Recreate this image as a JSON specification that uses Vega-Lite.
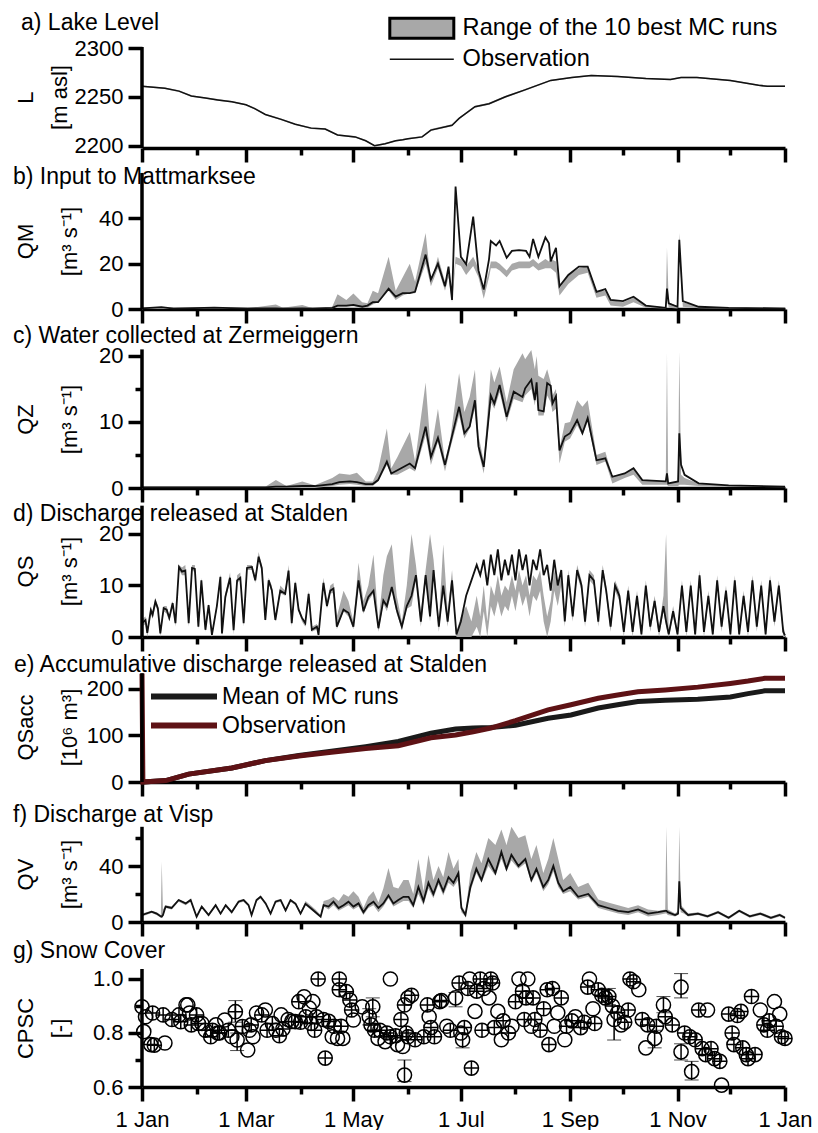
{
"$schema": "https://vega.github.io/schema/vega-lite/v6.json",
"background": "white",
"padding": {"left": 13, "top": 12, "right": 5, "bottom": 0},
"config": {
  "font": "Liberation Sans",
  "view": {"stroke": null},
  "axis": {"grid": false, "labelFont": "Liberation Sans", "labelFontSize": 22, "labelColor": "black", "tickColor": "black", "tickWidth": 3.5, "tickSize": 14, "domainColor": "black", "domainWidth": 3.5, "titleFont": "Liberation Sans", "titleFontSize": 22, "titleFontWeight": "normal", "titleColor": "black", "labelPadding": 5, "labelOverlap": false},
  "axisY": {"domain": false, "titleBaseline": "top", "titleAlign": "center"},
  "title": {"font": "Liberation Sans", "fontSize": 23, "fontWeight": "normal", "color": "black", "anchor": "start", "frame": "group", "baseline": "alphabetic"},
  "legend": {"labelFont": "Liberation Sans", "labelFontSize": 23, "labelColor": "black", "padding": 0, "titlePadding": 0, "labelLimit": 500}
},
"datasets": {
  "lake": [
    {"day":0,"obs":2261,"lo":2260.2,"hi":2261.8},{"day":13,"obs":2259,"lo":2258.2,"hi":2259.8},{"day":21,"obs":2256,"lo":2255.2,"hi":2256.8},{"day":28,"obs":2251,"lo":2250.2,"hi":2251.8},{"day":36,"obs":2249,"lo":2248.2,"hi":2249.8},{"day":43,"obs":2247,"lo":2246.2,"hi":2247.8},{"day":51,"obs":2245,"lo":2244.2,"hi":2245.8},{"day":59,"obs":2242,"lo":2241.2,"hi":2242.8},{"day":64,"obs":2238,"lo":2237.2,"hi":2238.8},{"day":70,"obs":2232,"lo":2231.2,"hi":2232.8},{"day":79,"obs":2227,"lo":2226.2,"hi":2227.8},{"day":87,"obs":2222,"lo":2221.2,"hi":2222.8},{"day":96,"obs":2218,"lo":2217.2,"hi":2218.8},{"day":104,"obs":2217,"lo":2216.2,"hi":2217.8},{"day":111,"obs":2211,"lo":2210.2,"hi":2211.8},{"day":121,"obs":2209,"lo":2208.2,"hi":2209.8},{"day":127,"obs":2205,"lo":2204.2,"hi":2205.8},{"day":132,"obs":2200,"lo":2199.2,"hi":2200.8},{"day":138,"obs":2202,"lo":2201.2,"hi":2202.8},{"day":144,"obs":2205,"lo":2204.2,"hi":2205.8},{"day":148,"obs":2206,"lo":2205.2,"hi":2206.8},{"day":151,"obs":2207,"lo":2206.2,"hi":2207.8},{"day":159,"obs":2209,"lo":2208,"hi":2210},{"day":164,"obs":2216,"lo":2215,"hi":2217},{"day":176,"obs":2221,"lo":2220,"hi":2222},{"day":180,"obs":2228,"lo":2227,"hi":2229},{"day":189,"obs":2240,"lo":2239,"hi":2241},{"day":197,"obs":2243,"lo":2242,"hi":2244},{"day":206,"obs":2250,"lo":2249,"hi":2251},{"day":217,"obs":2257,"lo":2256.2,"hi":2257.8},{"day":232,"obs":2267,"lo":2266.2,"hi":2267.8},{"day":244,"obs":2270,"lo":2269.2,"hi":2270.8},{"day":255,"obs":2272,"lo":2271.2,"hi":2272.8},{"day":270,"obs":2271,"lo":2270.2,"hi":2271.8},{"day":286,"obs":2269,"lo":2268.2,"hi":2269.8},{"day":300,"obs":2268,"lo":2267.2,"hi":2268.8},{"day":306,"obs":2270,"lo":2269.2,"hi":2270.8},{"day":315,"obs":2270,"lo":2269.2,"hi":2270.8},{"day":334,"obs":2267,"lo":2266.2,"hi":2267.8},{"day":350,"obs":2262,"lo":2261.2,"hi":2262.8},{"day":355,"obs":2261,"lo":2260.2,"hi":2261.8},{"day":365,"obs":2261,"lo":2260.2,"hi":2261.8}
  ],
  "qm": [
    {"day":0,"obs":0.3,"lo":0,"hi":0.3},{"day":11,"obs":0.8,"lo":0,"hi":0.5},{"day":18,"obs":0.2,"lo":0,"hi":0.3},{"day":41,"obs":0.6,"lo":0,"hi":0.4},{"day":60,"obs":0.2,"lo":0,"hi":0.3},{"day":76,"obs":0.3,"lo":0,"hi":2},{"day":80,"obs":0.2,"lo":0,"hi":0.5},{"day":91,"obs":0.3,"lo":0,"hi":1.8},{"day":97,"obs":0.2,"lo":0,"hi":0.3},{"day":108,"obs":0.5,"lo":0.2,"hi":1},{"day":111,"obs":1.5,"lo":1,"hi":6.5},{"day":116,"obs":1.5,"lo":1,"hi":4},{"day":120,"obs":1.8,"lo":1.2,"hi":6.8},{"day":125,"obs":1,"lo":0.5,"hi":3},{"day":128,"obs":1.5,"lo":0.5,"hi":2.5},{"day":131,"obs":3,"lo":2,"hi":8},{"day":134,"obs":3,"lo":3,"hi":7},{"day":140,"obs":9,"lo":8,"hi":23},{"day":144,"obs":5.5,"lo":4,"hi":8},{"day":148,"obs":7,"lo":6,"hi":14},{"day":152,"obs":7,"lo":7,"hi":20},{"day":155,"obs":7.6,"lo":7,"hi":12},{"day":161,"obs":24,"lo":20,"hi":33.5},{"day":164,"obs":13,"lo":10,"hi":12},{"day":168,"obs":20,"lo":18,"hi":23},{"day":172,"obs":10,"lo":8,"hi":12},{"day":174,"obs":18.7,"lo":14,"hi":17},{"day":176,"obs":4,"lo":3,"hi":6},{"day":178,"obs":54,"lo":20,"hi":23},{"day":181,"obs":23,"lo":19,"hi":22},{"day":184,"obs":19.7,"lo":15,"hi":19},{"day":188,"obs":40.7,"lo":19,"hi":23},{"day":191,"obs":17,"lo":14,"hi":18},{"day":194,"obs":8.6,"lo":4.5,"hi":8},{"day":197,"obs":22,"lo":14,"hi":17},{"day":198,"obs":30,"lo":18,"hi":21},{"day":201,"obs":28,"lo":18,"hi":21},{"day":203,"obs":30,"lo":17,"hi":20},{"day":207,"obs":22.6,"lo":14,"hi":17},{"day":210,"obs":25.6,"lo":17,"hi":20},{"day":214,"obs":26,"lo":18,"hi":21},{"day":218,"obs":25.6,"lo":18,"hi":21},{"day":220,"obs":23,"lo":18,"hi":21},{"day":222,"obs":30.9,"lo":19,"hi":22},{"day":225,"obs":23,"lo":17,"hi":20},{"day":229,"obs":31.6,"lo":18,"hi":22},{"day":231,"obs":29,"lo":18,"hi":21},{"day":232,"obs":21,"lo":18,"hi":22},{"day":235,"obs":27,"lo":16,"hi":21},{"day":237,"obs":10,"lo":6,"hi":9},{"day":242,"obs":15,"lo":11,"hi":15},{"day":248,"obs":18.7,"lo":15,"hi":18},{"day":253,"obs":18.7,"lo":16,"hi":19},{"day":258,"obs":7.6,"lo":5,"hi":8},{"day":263,"obs":8.8,"lo":6,"hi":8},{"day":266,"obs":4,"lo":1.5,"hi":4},{"day":273,"obs":3.5,"lo":1,"hi":3},{"day":279,"obs":5.4,"lo":3,"hi":5},{"day":286,"obs":1.5,"lo":0.5,"hi":1.5},{"day":297.3,"obs":0.5,"lo":0.2,"hi":0.8},{"day":298,"obs":9,"lo":5,"hi":27},{"day":299,"obs":2.5,"lo":0.5,"hi":3},{"day":304,"obs":1,"lo":0.2,"hi":1},{"day":305,"obs":30.5,"lo":25,"hi":33.5},{"day":307,"obs":3.5,"lo":1,"hi":3},{"day":316,"obs":1,"lo":0.3,"hi":1},{"day":333,"obs":0.5,"lo":0.1,"hi":0.5},{"day":365,"obs":0.2,"lo":0,"hi":0.3}
  ],
  "qz": [
    {"day":0,"obs":0.1,"lo":0,"hi":0.2},{"day":40,"obs":0.1,"lo":0,"hi":0.2},{"day":70,"obs":0.1,"lo":0,"hi":0.2},{"day":76,"obs":0.2,"lo":0,"hi":1.2},{"day":82,"obs":0.2,"lo":0,"hi":0.3},{"day":91,"obs":0.3,"lo":0,"hi":1},{"day":98,"obs":0.3,"lo":0,"hi":0.4},{"day":108,"obs":0.6,"lo":0.3,"hi":1.5},{"day":112,"obs":0.9,"lo":0.5,"hi":2.2},{"day":118,"obs":1,"lo":0.6,"hi":2},{"day":122,"obs":0.9,"lo":0.5,"hi":2.3},{"day":127,"obs":0.6,"lo":0.3,"hi":1},{"day":131,"obs":0.6,"lo":0.3,"hi":1},{"day":134,"obs":1.2,"lo":1,"hi":2.7},{"day":139,"obs":4,"lo":3.5,"hi":9},{"day":141.5,"obs":2.2,"lo":2,"hi":3},{"day":145,"obs":2.7,"lo":2,"hi":4.7},{"day":152,"obs":3.7,"lo":3,"hi":8.5},{"day":155,"obs":3,"lo":2.5,"hi":4},{"day":161,"obs":9.3,"lo":8,"hi":16},{"day":164,"obs":4.7,"lo":3.5,"hi":5.5},{"day":168,"obs":7.6,"lo":7,"hi":12},{"day":172,"obs":3.5,"lo":2.5,"hi":4},{"day":175,"obs":6.8,"lo":6,"hi":7.5},{"day":180,"obs":12.3,"lo":11,"hi":17.4},{"day":183,"obs":8.3,"lo":7.5,"hi":11.5},{"day":186,"obs":9.3,"lo":9,"hi":13.8},{"day":189,"obs":13.3,"lo":12,"hi":17.9},{"day":191,"obs":6.3,"lo":5.5,"hi":8},{"day":194,"obs":3.2,"lo":2.2,"hi":4},{"day":198,"obs":14,"lo":13,"hi":18},{"day":200,"obs":12.8,"lo":12,"hi":16},{"day":203,"obs":15.6,"lo":14.5,"hi":18.4},{"day":207,"obs":10.8,"lo":10,"hi":13},{"day":211,"obs":14.6,"lo":13.5,"hi":18},{"day":216,"obs":13.8,"lo":13,"hi":20.4},{"day":217.5,"obs":15.1,"lo":14,"hi":19.5},{"day":221,"obs":16.4,"lo":15,"hi":20.9},{"day":223,"obs":13.3,"lo":12.5,"hi":18},{"day":224,"obs":16,"lo":15,"hi":20},{"day":225,"obs":11.8,"lo":11,"hi":17},{"day":228,"obs":11.6,"lo":11,"hi":16.5},{"day":230,"obs":15.9,"lo":14,"hi":18},{"day":232,"obs":15.5,"lo":13,"hi":16},{"day":233,"obs":12.8,"lo":11.5,"hi":14},{"day":235,"obs":13.9,"lo":12,"hi":15},{"day":237,"obs":5.7,"lo":3.7,"hi":6},{"day":240,"obs":7.8,"lo":7,"hi":9.8},{"day":243,"obs":8.3,"lo":7.5,"hi":10},{"day":247,"obs":10.3,"lo":9.5,"hi":13.3},{"day":250,"obs":8.3,"lo":8,"hi":12.3},{"day":253,"obs":10.6,"lo":10,"hi":13.3},{"day":258,"obs":4.2,"lo":3.5,"hi":5},{"day":263,"obs":4.5,"lo":4,"hi":5.5},{"day":267,"obs":1.7,"lo":0.7,"hi":1.8},{"day":274,"obs":2.2,"lo":1.5,"hi":2.2},{"day":279,"obs":3,"lo":2,"hi":3},{"day":284,"obs":1.2,"lo":0.5,"hi":1.2},{"day":297.3,"obs":1,"lo":0.5,"hi":1},{"day":298,"obs":2.2,"lo":0.5,"hi":20.5},{"day":298.7,"obs":0.7,"lo":0.3,"hi":0.7},{"day":304.3,"obs":1,"lo":0.3,"hi":1},{"day":305,"obs":8.3,"lo":0.5,"hi":20.7},{"day":306,"obs":3.5,"lo":0.5,"hi":2},{"day":308,"obs":2,"lo":0.5,"hi":1.5},{"day":316,"obs":0.7,"lo":0.3,"hi":0.7},{"day":333,"obs":0.4,"lo":0.2,"hi":0.4},{"day":365,"obs":0.2,"lo":0.1,"hi":0.2}
  ],
  "qs": [
    {"day":0,"obs":2.7,"lo":2,"hi":3.5},{"day":2,"obs":3.3,"lo":2.5,"hi":4},{"day":3,"obs":0.8,"lo":0,"hi":1},{"day":5,"obs":5.2,"lo":4.5,"hi":6},{"day":6,"obs":4.3,"lo":3.5,"hi":5},{"day":7.6,"obs":6.9,"lo":6,"hi":7.5},{"day":9,"obs":5.6,"lo":5,"hi":6},{"day":10.4,"obs":0.7,"lo":0,"hi":1},{"day":12.3,"obs":5.6,"lo":5,"hi":6},{"day":14,"obs":5.3,"lo":4.5,"hi":6},{"day":15.5,"obs":3.7,"lo":3,"hi":4},{"day":17.4,"obs":6.6,"lo":6,"hi":7},{"day":19,"obs":2.7,"lo":2,"hi":3},{"day":21,"obs":13.6,"lo":13,"hi":14},{"day":22.7,"obs":12.7,"lo":12,"hi":13.5},{"day":24.6,"obs":12.9,"lo":12,"hi":14},{"day":26.5,"obs":2.7,"lo":2,"hi":3},{"day":28.4,"obs":13.4,"lo":13,"hi":14},{"day":30,"obs":13.2,"lo":12.5,"hi":14},{"day":32,"obs":2,"lo":1.5,"hi":2.5},{"day":33.7,"obs":11,"lo":10.5,"hi":11.5},{"day":36,"obs":1.4,"lo":1,"hi":2},{"day":37.8,"obs":6.2,"lo":5.5,"hi":6.5},{"day":39.7,"obs":0.4,"lo":0,"hi":0.8},{"day":42.5,"obs":6,"lo":5.5,"hi":6.5},{"day":44.5,"obs":11.7,"lo":11,"hi":12.3},{"day":45.4,"obs":0.7,"lo":0,"hi":1},{"day":47.3,"obs":7.8,"lo":7,"hi":8.5},{"day":50,"obs":11.5,"lo":11,"hi":12.5},{"day":52,"obs":1.3,"lo":0.5,"hi":2},{"day":54,"obs":11,"lo":10.5,"hi":12},{"day":55.8,"obs":11.5,"lo":11,"hi":12.5},{"day":57.7,"obs":2.7,"lo":2,"hi":3},{"day":59.6,"obs":13.4,"lo":13,"hi":14},{"day":62.4,"obs":13.6,"lo":13,"hi":14},{"day":64.3,"obs":11,"lo":10.5,"hi":12},{"day":66.2,"obs":15.6,"lo":15,"hi":16.5},{"day":68,"obs":13.4,"lo":12.5,"hi":14},{"day":70,"obs":3.3,"lo":3,"hi":4},{"day":71.9,"obs":11,"lo":10.5,"hi":11.5},{"day":73.7,"obs":9.1,"lo":8.5,"hi":10},{"day":75.7,"obs":3.3,"lo":3,"hi":4},{"day":78.5,"obs":9,"lo":8.5,"hi":10},{"day":81.3,"obs":8.4,"lo":8,"hi":9},{"day":83.2,"obs":12.9,"lo":12.5,"hi":14},{"day":85,"obs":2.7,"lo":2,"hi":3},{"day":87,"obs":10.5,"lo":10,"hi":11},{"day":88.9,"obs":5.3,"lo":5,"hi":6},{"day":90.8,"obs":3.7,"lo":3,"hi":4},{"day":92.7,"obs":2.7,"lo":2,"hi":3},{"day":94.6,"obs":8.4,"lo":8,"hi":9},{"day":96.4,"obs":1.4,"lo":1,"hi":2},{"day":99.3,"obs":2,"lo":1.5,"hi":2.5},{"day":100.2,"obs":0.4,"lo":0,"hi":0.6},{"day":103,"obs":10.5,"lo":10,"hi":11.5},{"day":105,"obs":6,"lo":5.5,"hi":7},{"day":106.9,"obs":9,"lo":8.5,"hi":10},{"day":108.7,"obs":9.4,"lo":8.5,"hi":10.5},{"day":110.6,"obs":2,"lo":1.5,"hi":4},{"day":114.4,"obs":5.3,"lo":5,"hi":9},{"day":117.2,"obs":4.7,"lo":4,"hi":7},{"day":120,"obs":2,"lo":1.5,"hi":3},{"day":122.9,"obs":11,"lo":10,"hi":14.4},{"day":125.7,"obs":5,"lo":4.5,"hi":7},{"day":128.5,"obs":7.8,"lo":7,"hi":10},{"day":131.4,"obs":9,"lo":8.5,"hi":16},{"day":134.2,"obs":1.7,"lo":1,"hi":3},{"day":137,"obs":7.1,"lo":6.5,"hi":12},{"day":139,"obs":6,"lo":5,"hi":15.7},{"day":141.8,"obs":9.7,"lo":9,"hi":18},{"day":144.6,"obs":5.3,"lo":4.5,"hi":8},{"day":147.5,"obs":2,"lo":1.5,"hi":3},{"day":150.3,"obs":6,"lo":5.5,"hi":10},{"day":153,"obs":8,"lo":6,"hi":20},{"day":155.5,"obs":12,"lo":11,"hi":14},{"day":158.3,"obs":3,"lo":2,"hi":5},{"day":161,"obs":12,"lo":11,"hi":13},{"day":163.5,"obs":4,"lo":3,"hi":20},{"day":165.5,"obs":13,"lo":12,"hi":15},{"day":168.5,"obs":2,"lo":1,"hi":3},{"day":171,"obs":10,"lo":9,"hi":18},{"day":173.5,"obs":3,"lo":2,"hi":5},{"day":176,"obs":11,"lo":10,"hi":13},{"day":178.5,"obs":0.5,"lo":0,"hi":1},{"day":181,"obs":3,"lo":0,"hi":4},{"day":184,"obs":8,"lo":0,"hi":6},{"day":187,"obs":11,"lo":0,"hi":3},{"day":190,"obs":14,"lo":2,"hi":8},{"day":192,"obs":12,"lo":0,"hi":4},{"day":194,"obs":15,"lo":5,"hi":10},{"day":196,"obs":10,"lo":0,"hi":3},{"day":198,"obs":16,"lo":6,"hi":10},{"day":200,"obs":12,"lo":4,"hi":8},{"day":202,"obs":17,"lo":7,"hi":12},{"day":204,"obs":11,"lo":4,"hi":8},{"day":206,"obs":15,"lo":6,"hi":10},{"day":208,"obs":12,"lo":5,"hi":9},{"day":210,"obs":16,"lo":8,"hi":12},{"day":212,"obs":11,"lo":5,"hi":9},{"day":214,"obs":17,"lo":9,"hi":13},{"day":216,"obs":13,"lo":6,"hi":10},{"day":218,"obs":16,"lo":8,"hi":12},{"day":220,"obs":10,"lo":4,"hi":8},{"day":222,"obs":15,"lo":8,"hi":12},{"day":224,"obs":13,"lo":7,"hi":11},{"day":226,"obs":17,"lo":9,"hi":13},{"day":228,"obs":12,"lo":3,"hi":8},{"day":230,"obs":14,"lo":0,"hi":4},{"day":232,"obs":9,"lo":3,"hi":7},{"day":234,"obs":15,"lo":9,"hi":13},{"day":236,"obs":10,"lo":6,"hi":10},{"day":238,"obs":13,"lo":10,"hi":13},{"day":240,"obs":3,"lo":2,"hi":4},{"day":242,"obs":12,"lo":11,"hi":13},{"day":244.5,"obs":4,"lo":3,"hi":5},{"day":247,"obs":13,"lo":12,"hi":14},{"day":249.5,"obs":10,"lo":9,"hi":11},{"day":251.5,"obs":3,"lo":2,"hi":4},{"day":254,"obs":12,"lo":11,"hi":13},{"day":256.5,"obs":11,"lo":10,"hi":12},{"day":259,"obs":3,"lo":2,"hi":4},{"day":261.5,"obs":13,"lo":12,"hi":14},{"day":263.5,"obs":9,"lo":8,"hi":10},{"day":266,"obs":2,"lo":1,"hi":3},{"day":268.5,"obs":10,"lo":9,"hi":11},{"day":271,"obs":8,"lo":7,"hi":9},{"day":273.5,"obs":1,"lo":0,"hi":2},{"day":276,"obs":9,"lo":8,"hi":10},{"day":278.5,"obs":1,"lo":0,"hi":2},{"day":281,"obs":8,"lo":7,"hi":9},{"day":283.5,"obs":0.5,"lo":0,"hi":1},{"day":286,"obs":10,"lo":9,"hi":11},{"day":288.5,"obs":2,"lo":1,"hi":3},{"day":291,"obs":7,"lo":6,"hi":8},{"day":293.5,"obs":1,"lo":0,"hi":2},{"day":296,"obs":6,"lo":5,"hi":8},{"day":297.5,"obs":3,"lo":2,"hi":20},{"day":299,"obs":0.5,"lo":0,"hi":1},{"day":301.5,"obs":5,"lo":4,"hi":6},{"day":304,"obs":0.5,"lo":0,"hi":1},{"day":306.5,"obs":10,"lo":9,"hi":11},{"day":309,"obs":1,"lo":0,"hi":2},{"day":311.5,"obs":10,"lo":9,"hi":11},{"day":314,"obs":0.5,"lo":0,"hi":1},{"day":316.5,"obs":12,"lo":11,"hi":13},{"day":319,"obs":1,"lo":0,"hi":2},{"day":321.5,"obs":8,"lo":7,"hi":9},{"day":324,"obs":0.5,"lo":0,"hi":1},{"day":326.5,"obs":11,"lo":10,"hi":12},{"day":329,"obs":2,"lo":1,"hi":3},{"day":331.5,"obs":9,"lo":8,"hi":10},{"day":334,"obs":0.5,"lo":0,"hi":1},{"day":336.5,"obs":11,"lo":10,"hi":12},{"day":339,"obs":0.5,"lo":0,"hi":1},{"day":341.5,"obs":8,"lo":7,"hi":9},{"day":344,"obs":1,"lo":0,"hi":2},{"day":346.5,"obs":11,"lo":10,"hi":12},{"day":349,"obs":2,"lo":1,"hi":3},{"day":351.5,"obs":10,"lo":9,"hi":11},{"day":354,"obs":0.5,"lo":0,"hi":1},{"day":356.5,"obs":11,"lo":10,"hi":12},{"day":359,"obs":3,"lo":2,"hi":4},{"day":361.5,"obs":10,"lo":9,"hi":11},{"day":364,"obs":1,"lo":0,"hi":2},{"day":365,"obs":0.3,"lo":0,"hi":1}
  ],
  "qsacc": [
    {"day":0,"mean":0,"obs":233},{"day":0.5,"mean":0,"obs":0},{"day":13.5,"mean":3,"obs":3},{"day":26.5,"mean":17,"obs":17},{"day":51,"mean":30,"obs":30},{"day":70,"mean":46,"obs":46},{"day":89,"mean":57,"obs":56},{"day":107.5,"mean":66,"obs":64},{"day":127,"mean":76,"obs":72},{"day":145.5,"mean":87,"obs":78},{"day":164,"mean":105,"obs":95},{"day":178,"mean":114,"obs":101},{"day":188,"mean":116,"obs":108},{"day":198,"mean":117,"obs":116},{"day":212,"mean":122,"obs":132},{"day":230.5,"mean":137,"obs":155},{"day":243.5,"mean":144,"obs":166},{"day":259,"mean":159,"obs":180},{"day":270,"mean":166,"obs":187},{"day":281.5,"mean":173,"obs":194},{"day":297,"mean":176,"obs":198},{"day":315.5,"mean":178,"obs":204},{"day":334,"mean":183,"obs":212},{"day":344,"mean":190,"obs":217},{"day":353.5,"mean":196,"obs":223},{"day":365,"mean":196,"obs":223}
  ],
  "qv": [
    {"day":0,"obs":5,"lo":4,"hi":6},{"day":5.5,"obs":7.4,"lo":6.5,"hi":8},{"day":8.3,"obs":6,"lo":5,"hi":7},{"day":10.7,"obs":4,"lo":3,"hi":5},{"day":11.2,"obs":3.8,"lo":3,"hi":43},{"day":11.9,"obs":5,"lo":4,"hi":9},{"day":13.4,"obs":11,"lo":10,"hi":12},{"day":16.8,"obs":10,"lo":9,"hi":11},{"day":20.8,"obs":15.7,"lo":14.5,"hi":16.5},{"day":24.8,"obs":13.3,"lo":12,"hi":14},{"day":27.6,"obs":15.7,"lo":14.5,"hi":16.5},{"day":31,"obs":3.8,"lo":2.5,"hi":4.5},{"day":33.9,"obs":11,"lo":10,"hi":12},{"day":37.8,"obs":5,"lo":4,"hi":6},{"day":41.8,"obs":12,"lo":11,"hi":13},{"day":44.6,"obs":6,"lo":5,"hi":7},{"day":47.5,"obs":12,"lo":11,"hi":13},{"day":50.9,"obs":7,"lo":6,"hi":8},{"day":54.8,"obs":14.5,"lo":13.5,"hi":15.5},{"day":57.7,"obs":15.7,"lo":14.5,"hi":16.5},{"day":60.5,"obs":12,"lo":11,"hi":13},{"day":62.2,"obs":5,"lo":4,"hi":6},{"day":65,"obs":15.7,"lo":14.5,"hi":16.5},{"day":67.3,"obs":18,"lo":17,"hi":19},{"day":70.2,"obs":13.3,"lo":12,"hi":14},{"day":73,"obs":6,"lo":5,"hi":7},{"day":75.8,"obs":14.5,"lo":13.5,"hi":15.5},{"day":78.7,"obs":15.7,"lo":14.5,"hi":16.5},{"day":81.5,"obs":8.3,"lo":7,"hi":9},{"day":84.3,"obs":15.7,"lo":14.5,"hi":16.5},{"day":87.2,"obs":13,"lo":12,"hi":14},{"day":90,"obs":6,"lo":5,"hi":7},{"day":92.8,"obs":13,"lo":12,"hi":15},{"day":95.7,"obs":10,"lo":9,"hi":12},{"day":98.5,"obs":7,"lo":6,"hi":9},{"day":101.4,"obs":3.8,"lo":3,"hi":5},{"day":103.1,"obs":12,"lo":11,"hi":15},{"day":105.9,"obs":11,"lo":9,"hi":16},{"day":108.7,"obs":14.5,"lo":12,"hi":18},{"day":111.6,"obs":10,"lo":8,"hi":15},{"day":114.4,"obs":12,"lo":10,"hi":20},{"day":117.2,"obs":14.5,"lo":12,"hi":18},{"day":120,"obs":11,"lo":9,"hi":22},{"day":122.9,"obs":13.3,"lo":11,"hi":18},{"day":125.7,"obs":7,"lo":5,"hi":10},{"day":128.5,"obs":12,"lo":10,"hi":18},{"day":131.4,"obs":14.5,"lo":12,"hi":22},{"day":134.2,"obs":10,"lo":7,"hi":14},{"day":137,"obs":13.3,"lo":11,"hi":24},{"day":139.9,"obs":19,"lo":17,"hi":38.6},{"day":142.7,"obs":13.3,"lo":11,"hi":25},{"day":145.5,"obs":15.7,"lo":13,"hi":24},{"day":148.4,"obs":18,"lo":15,"hi":30},{"day":151.3,"obs":18,"lo":15,"hi":30},{"day":154,"obs":12,"lo":10,"hi":20},{"day":156.9,"obs":25,"lo":20,"hi":45},{"day":159.8,"obs":15,"lo":12,"hi":22},{"day":162.6,"obs":28,"lo":24,"hi":48},{"day":165.4,"obs":20,"lo":17,"hi":30},{"day":168.3,"obs":30,"lo":27,"hi":40},{"day":171,"obs":22,"lo":19,"hi":32},{"day":174,"obs":32,"lo":28,"hi":50},{"day":176.8,"obs":28,"lo":25,"hi":38},{"day":179.6,"obs":35,"lo":30,"hi":45},{"day":181.3,"obs":10,"lo":7,"hi":12},{"day":183.6,"obs":5,"lo":4,"hi":7},{"day":186.4,"obs":25,"lo":22,"hi":35},{"day":189.8,"obs":38,"lo":35,"hi":50},{"day":192.7,"obs":30,"lo":28,"hi":42},{"day":196.6,"obs":45,"lo":40,"hi":60},{"day":200.6,"obs":35,"lo":33,"hi":55},{"day":204,"obs":50,"lo":45,"hi":66},{"day":206.9,"obs":38,"lo":36,"hi":55},{"day":209.7,"obs":48,"lo":44,"hi":68},{"day":213.7,"obs":40,"lo":38,"hi":60},{"day":217.6,"obs":45,"lo":42,"hi":62},{"day":221,"obs":30,"lo":28,"hi":45},{"day":223.9,"obs":38,"lo":35,"hi":55},{"day":227.8,"obs":25,"lo":22,"hi":35},{"day":230.6,"obs":30,"lo":27,"hi":45},{"day":233.5,"obs":40,"lo":36,"hi":60},{"day":236.3,"obs":28,"lo":25,"hi":45},{"day":239.1,"obs":22,"lo":20,"hi":30},{"day":243.1,"obs":25,"lo":22,"hi":35},{"day":247.6,"obs":18,"lo":16,"hi":25},{"day":253.3,"obs":20,"lo":18,"hi":28},{"day":259,"obs":12,"lo":10,"hi":16},{"day":264.6,"obs":10,"lo":8,"hi":14},{"day":270.3,"obs":8,"lo":6,"hi":12},{"day":276,"obs":7,"lo":5,"hi":10},{"day":281.6,"obs":9,"lo":7,"hi":12},{"day":287.3,"obs":6,"lo":4,"hi":9},{"day":293,"obs":7,"lo":5,"hi":8},{"day":297,"obs":8,"lo":6,"hi":9},{"day":297.7,"obs":8,"lo":6,"hi":68},{"day":298.5,"obs":7,"lo":5,"hi":9},{"day":302.6,"obs":5,"lo":4,"hi":6},{"day":304.3,"obs":6,"lo":5,"hi":8},{"day":305,"obs":29,"lo":20,"hi":68},{"day":305.8,"obs":10,"lo":7,"hi":12},{"day":307.5,"obs":8,"lo":6,"hi":10},{"day":310,"obs":5,"lo":4,"hi":6},{"day":315.6,"obs":6,"lo":5,"hi":7},{"day":321,"obs":4,"lo":3,"hi":5},{"day":327,"obs":7,"lo":6,"hi":8},{"day":333,"obs":3,"lo":2,"hi":4},{"day":339,"obs":8,"lo":7,"hi":9},{"day":345,"obs":4,"lo":3,"hi":5},{"day":351,"obs":6,"lo":5,"hi":7},{"day":357,"obs":3,"lo":2,"hi":4},{"day":362,"obs":5,"lo":4,"hi":6},{"day":365,"obs":3,"lo":2,"hi":4}
  ],
  "snow": [
    {"day":0,"v":0.897,"t":"o"},{"day":2,"v":0.86,"t":"o"},{"day":1,"v":0.805,"t":"o"},{"day":6,"v":0.874,"t":"p"},{"day":7,"v":0.755,"t":"p"},{"day":5,"v":0.757,"t":"p"},{"day":12,"v":0.867,"t":"p"},{"day":13,"v":0.763,"t":"o"},{"day":17,"v":0.85,"t":"p"},{"day":21,"v":0.867,"t":"p"},{"day":22,"v":0.842,"t":"p"},{"day":25,"v":0.904,"t":"o"},{"day":26,"v":0.904,"t":"o"},{"day":27,"v":0.874,"t":"o"},{"day":28,"v":0.83,"t":"p"},{"day":31,"v":0.867,"t":"p"},{"day":32,"v":0.835,"t":"p"},{"day":34,"v":0.835,"t":"o"},{"day":36,"v":0.81,"t":"p"},{"day":39,"v":0.786,"t":"p"},{"day":40,"v":0.81,"t":"p"},{"day":42,"v":0.83,"t":"o"},{"day":43,"v":0.8,"t":"p"},{"day":44,"v":0.8,"t":"p"},{"day":47,"v":0.848,"t":"o"},{"day":49,"v":0.81,"t":"p"},{"day":51,"v":0.786,"t":"o"},{"day":53,"v":0.879,"t":"p","lo":0.84,"hi":0.92},{"day":54,"v":0.774,"t":"o","lo":0.735,"hi":0.8},{"day":57,"v":0.824,"t":"p"},{"day":60,"v":0.737,"t":"o"},{"day":61,"v":0.81,"t":"o"},{"day":62,"v":0.83,"t":"p"},{"day":63,"v":0.786,"t":"o"},{"day":65,"v":0.874,"t":"o"},{"day":68,"v":0.867,"t":"p"},{"day":70,"v":0.885,"t":"o"},{"day":71,"v":0.81,"t":"p"},{"day":74,"v":0.835,"t":"p"},{"day":76,"v":0.81,"t":"o"},{"day":78,"v":0.79,"t":"p"},{"day":79,"v":0.867,"t":"o"},{"day":80,"v":0.815,"t":"p"},{"day":83,"v":0.85,"t":"o"},{"day":85,"v":0.843,"t":"p"},{"day":87,"v":0.842,"t":"p"},{"day":89,"v":0.916,"t":"p"},{"day":90,"v":0.84,"t":"p"},{"day":92,"v":0.934,"t":"o"},{"day":93,"v":0.86,"t":"p"},{"day":95,"v":0.892,"t":"o"},{"day":96,"v":0.835,"t":"p"},{"day":97,"v":0.916,"t":"o"},{"day":98,"v":0.81,"t":"p"},{"day":99,"v":0.86,"t":"p"},{"day":100,"v":1.0,"t":"p"},{"day":103,"v":0.85,"t":"p"},{"day":104,"v":0.707,"t":"p"},{"day":106,"v":0.843,"t":"p"},{"day":108,"v":0.786,"t":"o"},{"day":109,"v":0.825,"t":"p"},{"day":111,"v":0.78,"t":"o"},{"day":112,"v":1.0,"t":"p"},{"day":112,"v":0.96,"t":"p"},{"day":113,"v":0.825,"t":"p"},{"day":114,"v":0.78,"t":"o"},{"day":116,"v":0.953,"t":"p"},{"day":118,"v":0.922,"t":"p"},{"day":119,"v":0.885,"t":"p"},{"day":120,"v":0.848,"t":"o"},{"day":125,"v":0.897,"t":"o"},{"day":129,"v":0.86,"t":"o","lo":0.83,"hi":0.89},{"day":131,"v":0.897,"t":"o","lo":0.86,"hi":0.93},{"day":130,"v":0.83,"t":"p"},{"day":132,"v":0.81,"t":"p"},{"day":134,"v":0.78,"t":"o"},{"day":135,"v":0.81,"t":"p"},{"day":138,"v":0.768,"t":"o"},{"day":139,"v":0.8,"t":"p"},{"day":141,"v":0.786,"t":"p"},{"day":141,"v":1.0,"t":"o"},{"day":144,"v":0.79,"t":"p"},{"day":145,"v":0.757,"t":"o"},{"day":147,"v":0.85,"t":"p"},{"day":148,"v":0.75,"t":"o"},{"day":149,"v":0.644,"t":"o","lo":0.62,"hi":0.7},{"day":149,"v":0.904,"t":"p"},{"day":151,"v":0.93,"t":"o"},{"day":150,"v":0.8,"t":"p"},
    {"day":153,"v":0.94,"t":"p"},{"day":151,"v":0.786,"t":"p"},{"day":155,"v":0.775,"t":"p"},{"day":160,"v":0.786,"t":"p"},{"day":162,"v":0.904,"t":"p"},{"day":163,"v":0.86,"t":"o"},{"day":164,"v":0.82,"t":"p"},{"day":166,"v":0.786,"t":"p"},{"day":169,"v":0.916,"t":"p"},{"day":170,"v":0.92,"t":"p"},{"day":173,"v":0.825,"t":"o"},{"day":175,"v":0.81,"t":"p"},{"day":178,"v":0.93,"t":"o","lo":0.897,"hi":0.95},{"day":180,"v":0.985,"t":"p"},{"day":181,"v":0.8,"t":"o"},{"day":182,"v":0.775,"t":"o","lo":0.745,"hi":0.8},{"day":183,"v":0.82,"t":"p"},{"day":185,"v":0.965,"t":"p"},{"day":186,"v":1.0,"t":"o"},{"day":187,"v":0.67,"t":"p"},{"day":189,"v":0.88,"t":"o"},{"day":190,"v":0.955,"t":"p"},{"day":192,"v":1.0,"t":"p"},{"day":193,"v":0.81,"t":"p"},{"day":194,"v":0.965,"t":"p"},{"day":197,"v":0.93,"t":"o"},{"day":198,"v":1.0,"t":"p"},{"day":199,"v":0.985,"t":"p"},{"day":200,"v":0.82,"t":"p"},{"day":202,"v":0.88,"t":"o"},{"day":204,"v":0.775,"t":"o"},{"day":205,"v":0.845,"t":"p"},{"day":208,"v":0.8,"t":"p"},{"day":210,"v":0.825,"t":"o"},{"day":212,"v":0.916,"t":"p"},{"day":214,"v":1.0,"t":"o"},{"day":216,"v":0.955,"t":"p"},{"day":217,"v":0.85,"t":"p"},{"day":218,"v":0.93,"t":"p"},{"day":219,"v":1.0,"t":"o"},{"day":221,"v":0.825,"t":"o"},{"day":222,"v":0.93,"t":"p"},{"day":223,"v":0.85,"t":"p"},{"day":226,"v":0.81,"t":"p"},{"day":228,"v":0.89,"t":"p"},{"day":230,"v":0.96,"t":"p"},{"day":231,"v":0.757,"t":"p"},{"day":233,"v":0.965,"t":"p"},{"day":234,"v":0.825,"t":"o"},{"day":236,"v":0.875,"t":"o"},{"day":238,"v":0.93,"t":"p"},{"day":240,"v":0.775,"t":"o"},{"day":241,"v":0.825,"t":"p"},{"day":244,"v":0.845,"t":"p"},{"day":246,"v":0.86,"t":"o"},{"day":249,"v":0.82,"t":"p"},{"day":251,"v":0.84,"t":"p"},{"day":254,"v":1.0,"t":"o"},{"day":253,"v":0.97,"t":"p"},{"day":256,"v":0.89,"t":"o"},{"day":257,"v":0.835,"t":"p"},{"day":259,"v":0.96,"t":"p"},{"day":261,"v":0.94,"t":"p"},{"day":263,"v":0.93,"t":"p"},{"day":265,"v":0.935,"t":"p","lo":0.905,"hi":0.965},{"day":267,"v":0.9,"t":"p"},{"day":268,"v":0.85,"t":"o","lo":0.774,"hi":0.88},{"day":270,"v":0.875,"t":"p"},{"day":272,"v":0.83,"t":"o"},{"day":274,"v":0.84,"t":"p"},{"day":276,"v":0.885,"t":"p"},{"day":277,"v":1.0,"t":"p"},{"day":279,"v":0.99,"t":"p"},{"day":282,"v":0.96,"t":"o"},{"day":284,"v":0.85,"t":"p"},{"day":286,"v":0.745,"t":"o"},{"day":287,"v":0.83,"t":"p"},{"day":291,"v":0.78,"t":"o","lo":0.745,"hi":0.81},{"day":292,"v":0.825,"t":"p"},{"day":296,"v":0.904,"t":"o","lo":0.875,"hi":0.935},{"day":297,"v":0.86,"t":"p"},{"day":301,"v":0.83,"t":"p"},{"day":306,"v":0.97,"t":"o","lo":0.93,"hi":1.02},{"day":306,"v":0.73,"t":"o","lo":0.7,"hi":0.76},{"day":308,"v":0.8,"t":"p"},{"day":312,"v":0.657,"t":"o","lo":0.626,"hi":0.695},{"day":311,"v":0.786,"t":"p"},{"day":314,"v":0.775,"t":"p"},{"day":316,"v":0.885,"t":"p"},{"day":318,"v":0.742,"t":"p"},{"day":321,"v":0.885,"t":"o"},{"day":320,"v":0.72,"t":"p"},{"day":323,"v":0.742,"t":"p"},{"day":325,"v":0.705,"t":"p"},{"day":328,"v":0.695,"t":"p"},{"day":329,"v":0.607,"t":"o"},{"day":333,"v":0.87,"t":"p"},{"day":335,"v":0.8,"t":"p"},{"day":336,"v":0.757,"t":"p"},{"day":338,"v":0.865,"t":"p"},{"day":340,"v":0.88,"t":"p"},{"day":341,"v":0.745,"t":"p"},{"day":343,"v":0.72,"t":"p"},{"day":344,"v":0.705,"t":"p"},{"day":346,"v":0.935,"t":"p"},{"day":348,"v":0.72,"t":"p"},{"day":351,"v":0.885,"t":"o"},{"day":353,"v":0.83,"t":"p"},{"day":355,"v":0.81,"t":"p"},{"day":356,"v":0.845,"t":"p"},{"day":359,"v":0.916,"t":"o"},{"day":360,"v":0.825,"t":"p"},{"day":362,"v":0.87,"t":"o"},{"day":363,"v":0.786,"t":"p"},{"day":365,"v":0.78,"t":"p"}
  ]
},
"bounds": "flush",
"spacing": 0,
"resolve": {"scale": {"fill": "independent", "stroke": "independent", "color": "independent", "shape": "independent"}, "legend": {"fill": "independent", "stroke": "independent", "color": "independent", "shape": "independent"}},
"vconcat": [
  {
    "width": 643, "height": 101,
    "title": {"text": "a) Lake Level", "dx": -121, "offset": -18.5},
    "data": {"name": "lake"},
    "encoding": {"x": {"field": "day", "type": "quantitative", "scale": {"domain": [0, 365], "nice": false, "zero": false}, "axis": {"values": [0,31,59,90,120,151,181,212,243,273,304,334,365], "labels": false, "title": null, "tickSize": {"condition": {"test": "indexof([0,59,120,181,243,304,365], datum.value) >= 0", "value": 14}, "value": 7}}}},
    "layer": [
      {"mark": {"type": "area", "color": "#a8a8a8"}, "encoding": {
        "y": {"field": "lo", "type": "quantitative", "scale": {"domain": [2197.6, 2301.3], "nice": false, "zero": false}, "axis": {"values": [2200,2225,2250,2275,2300], "format": "d", "labelExpr": "datum.value % 50 == 0 ? datum.label : ''", "tickSize": {"condition": {"test": "datum.value % 50 == 0", "value": 14}, "value": 7}, "title": ["L", "[m asl]"], "titleX": -127, "titleY": 50, "titleLineHeight": 34}},
        "y2": {"field": "hi"},
        "fill": {"datum": "Range of the 10 best MC runs", "type": "nominal", "scale": {"range": ["#a8a8a8"]}, "legend": {"orient": "none", "legendX": 268, "legendY": -30.5, "title": null, "symbolType": "M-3.2,-1H3.2V1H-3.2Z", "symbolSize": 400, "symbolStrokeColor": "black", "symbolStrokeWidth": 3, "labelOffset": 29, "labelFontSize": 23.6}}
      }},
      {"mark": {"type": "line", "strokeWidth": 1.5}, "encoding": {
        "y": {"field": "obs", "type": "quantitative"},
        "stroke": {"datum": "Observation", "type": "nominal", "scale": {"range": ["#111111"]}, "legend": {"orient": "none", "legendX": 268, "legendY": 0.5, "title": null, "symbolType": "M-3.2,0H3.2", "symbolSize": 400, "symbolStrokeWidth": 1.5, "labelOffset": 29, "labelFontSize": 23.6}}
      }},
      {"data": {"values": [{"day": 0, "y0": 2197.6, "y1": 2301.3}]}, "mark": {"type": "rule", "strokeWidth": 3.5, "color": "black"}, "encoding": {"y": {"field": "y0", "type": "quantitative"}, "y2": {"field": "y1"}}}
    ]
  },
  {
    "width": 643, "height": 161,
    "title": {"text": "b) Input to Mattmarksee", "dx": -129, "offset": -41},
    "data": {"name": "qm"},
    "encoding": {"x": {"field": "day", "type": "quantitative", "scale": {"domain": [0, 365], "nice": false, "zero": false}, "axis": {"values": [0,31,59,90,120,151,181,212,243,273,304,334,365], "labels": false, "title": null, "tickSize": {"condition": {"test": "indexof([0,59,120,181,243,304,365], datum.value) >= 0", "value": 14}, "value": 7}}}},
    "layer": [
      {"mark": {"type": "area", "color": "#a8a8a8"}, "encoding": {
        "y": {"field": "lo", "type": "quantitative", "scale": {"domain": [0, 71], "nice": false}, "axis": {"values": [0,10,20,30,40,50], "labelExpr": "datum.value % 20 == 0 ? datum.label : ''", "tickSize": {"condition": {"test": "datum.value % 20 == 0", "value": 14}, "value": 7}, "title": ["QM", "[m³ s⁻¹]"], "titleX": -127, "titleY": 93, "titleLineHeight": 44}},
        "y2": {"field": "hi"}
      }},
      {"mark": {"type": "line", "strokeWidth": 1.8, "color": "#111111"}, "encoding": {"y": {"field": "obs", "type": "quantitative"}}},
      {"data": {"values": [{"day": 0, "y0": 0, "y1": 60}]}, "mark": {"type": "rule", "strokeWidth": 3.5, "color": "black"}, "encoding": {"y": {"field": "y0", "type": "quantitative"}, "y2": {"field": "y1"}}}
    ]
  },
  {
    "width": 643, "height": 179,
    "title": {"text": "c) Water collected at Zermeiggern", "dx": -129, "offset": -39},
    "data": {"name": "qz"},
    "encoding": {"x": {"field": "day", "type": "quantitative", "scale": {"domain": [0, 365], "nice": false, "zero": false}, "axis": {"values": [0,31,59,90,120,151,181,212,243,273,304,334,365], "labels": false, "title": null, "tickSize": {"condition": {"test": "indexof([0,59,120,181,243,304,365], datum.value) >= 0", "value": 14}, "value": 7}}}},
    "layer": [
      {"mark": {"type": "area", "color": "#a8a8a8"}, "encoding": {
        "y": {"field": "lo", "type": "quantitative", "scale": {"domain": [0, 27.12], "nice": false}, "axis": {"values": [0,5,10,15,20], "labelExpr": "datum.value % 10 == 0 ? datum.label : ''", "tickSize": {"condition": {"test": "datum.value % 10 == 0", "value": 14}, "value": 7}, "title": ["QZ", "[m³ s⁻¹]"], "titleX": -127, "titleY": 110, "titleLineHeight": 44}},
        "y2": {"field": "hi"}
      }},
      {"mark": {"type": "line", "strokeWidth": 1.8, "color": "#111111"}, "encoding": {"y": {"field": "obs", "type": "quantitative"}}},
      {"data": {"values": [{"day": 0, "y0": 0, "y1": 21}]}, "mark": {"type": "rule", "strokeWidth": 3.5, "color": "black"}, "encoding": {"y": {"field": "y0", "type": "quantitative"}, "y2": {"field": "y1"}}}
    ]
  },
  {
    "width": 643, "height": 149,
    "title": {"text": "d) Discharge released at Stalden", "dx": -129, "offset": -38},
    "data": {"name": "qs"},
    "encoding": {"x": {"field": "day", "type": "quantitative", "scale": {"domain": [0, 365], "nice": false, "zero": false}, "axis": {"values": [0,31,59,90,120,151,181,212,243,273,304,334,365], "labels": false, "title": null, "tickSize": {"condition": {"test": "indexof([0,59,120,181,243,304,365], datum.value) >= 0", "value": 14}, "value": 7}}}},
    "layer": [
      {"mark": {"type": "area", "color": "#a8a8a8"}, "encoding": {
        "y": {"field": "lo", "type": "quantitative", "scale": {"domain": [0, 28.93], "nice": false}, "axis": {"values": [0,5,10,15,20], "labelExpr": "datum.value % 10 == 0 ? datum.label : ''", "tickSize": {"condition": {"test": "datum.value % 10 == 0", "value": 14}, "value": 7}, "title": ["QS", "[m³ s⁻¹]"], "titleX": -127, "titleY": 83, "titleLineHeight": 44}},
        "y2": {"field": "hi"}
      }},
      {"mark": {"type": "line", "strokeWidth": 1.8, "color": "#111111"}, "encoding": {"y": {"field": "obs", "type": "quantitative"}}},
      {"data": {"values": [{"day": 0, "y0": 0, "y1": 25.5}]}, "mark": {"type": "rule", "strokeWidth": 3.5, "color": "black"}, "encoding": {"y": {"field": "y0", "type": "quantitative"}, "y2": {"field": "y1"}}}
    ]
  },
  {
    "width": 643, "height": 145,
    "title": {"text": "e) Accumulative discharge released at Stalden", "dx": -128, "offset": -40},
    "data": {"name": "qsacc"},
    "encoding": {"x": {"field": "day", "type": "quantitative", "scale": {"domain": [0, 365], "nice": false, "zero": false}, "axis": {"values": [0,31,59,90,120,151,181,212,243,273,304,334,365], "labels": false, "title": null, "tickSize": {"condition": {"test": "indexof([0,59,120,181,243,304,365], datum.value) >= 0", "value": 14}, "value": 7}}}},
    "layer": [
      {"mark": {"type": "line", "strokeWidth": 5}, "encoding": {
        "y": {"field": "mean", "type": "quantitative", "scale": {"domain": [0, 311.8], "nice": false}, "axis": {"values": [0,50,100,150,200], "labelExpr": "datum.value % 100 == 0 ? datum.label : ''", "tickSize": {"condition": {"test": "datum.value % 100 == 0", "value": 14}, "value": 7}, "title": ["QSacc", "[10⁶ m³]"], "titleX": -127, "titleY": 90, "titleLineHeight": 44}},
        "stroke": {"datum": "Mean of MC runs", "type": "nominal", "scale": {"domain": ["Mean of MC runs", "Observation"], "range": ["#1a1a1a", "#5e1215"]}, "legend": {"orient": "none", "legendX": 29, "legendY": 46.5, "title": null, "symbolType": "M-3.3,0H3.3", "symbolSize": 400, "symbolStrokeWidth": 6, "labelOffset": 25, "rowPadding": 4}}
      }},
      {"mark": {"type": "line", "strokeWidth": 5}, "encoding": {
        "y": {"field": "obs", "type": "quantitative"},
        "stroke": {"datum": "Observation", "type": "nominal"}
      }},
      {"data": {"values": [{"day": 0, "y0": 0, "y1": 234}]}, "mark": {"type": "rule", "strokeWidth": 3.5, "color": "black"}, "encoding": {"y": {"field": "y0", "type": "quantitative"}, "y2": {"field": "y1"}}}
    ]
  },
  {
    "width": 643, "height": 140,
    "title": {"text": "f) Discharge at Visp", "dx": -129, "offset": -45},
    "data": {"name": "qv"},
    "encoding": {"x": {"field": "day", "type": "quantitative", "scale": {"domain": [0, 365], "nice": false, "zero": false}, "axis": {"values": [0,31,59,90,120,151,181,212,243,273,304,334,365], "labels": false, "title": null, "tickSize": {"condition": {"test": "indexof([0,59,120,181,243,304,365], datum.value) >= 0", "value": 14}, "value": 7}}}},
    "layer": [
      {"mark": {"type": "area", "color": "#a8a8a8"}, "encoding": {
        "y": {"field": "lo", "type": "quantitative", "scale": {"domain": [0, 100], "nice": false}, "axis": {"values": [0,20,40,60], "labelExpr": "datum.value % 40 == 0 ? datum.label : ''", "tickSize": {"condition": {"test": "datum.value % 40 == 0", "value": 14}, "value": 7}, "title": ["QV", "[m³ s⁻¹]"], "titleX": -127, "titleY": 92, "titleLineHeight": 44}},
        "y2": {"field": "hi"}
      }},
      {"mark": {"type": "line", "strokeWidth": 1.8, "color": "#111111"}, "encoding": {"y": {"field": "obs", "type": "quantitative"}}},
      {"data": {"values": [{"day": 0, "y0": 0, "y1": 68}]}, "mark": {"type": "rule", "strokeWidth": 3.5, "color": "black"}, "encoding": {"y": {"field": "y0", "type": "quantitative"}, "y2": {"field": "y1"}}}
    ]
  },
  {
    "width": 643, "height": 165,
    "title": {"text": "g) Snow Cover", "dx": -129, "offset": -41},
    "data": {"name": "snow"},
    "encoding": {"x": {"field": "day", "type": "quantitative", "scale": {"domain": [0, 365], "nice": false, "zero": false}, "axis": {"values": [0,31,59,90,120,151,181,212,243,273,304,334,365], "labels": true, "labelExpr": "indexof([0,59,120,181,243,304,365], datum.value) >= 0 ? timeFormat(datetime(2010, 0, 1 + datum.value), '%-d %b') : ''", "labelFlush": false, "labelPadding": 8, "title": null, "tickSize": {"condition": {"test": "indexof([0,59,120,181,243,304,365], datum.value) >= 0", "value": 14}, "value": 7}}}},
    "layer": [
      {"transform": [{"filter": "isValid(datum.lo)"}], "mark": {"type": "errorbar", "color": "black", "ticks": {"size": 14, "strokeWidth": 1.5}, "rule": {"strokeWidth": 1.5}}, "encoding": {
        "y": {"field": "lo", "type": "quantitative", "scale": {"domain": [0.6, 1.2111], "nice": false, "zero": false}, "axis": {"values": [0.6,0.7,0.8,0.9,1.0], "format": ".1f", "labelExpr": "round(datum.value * 10) % 2 == 0 ? datum.label : ''", "tickSize": {"condition": {"test": "round(datum.value * 10) % 2 == 0", "value": 14}, "value": 7}, "title": ["CPSC", "[-]"], "titleX": -127, "titleY": 106, "titleLineHeight": 34}},
        "y2": {"field": "hi"}
      }},
      {"mark": {"type": "point", "filled": false, "stroke": "black", "strokeWidth": 1.5, "size": 200, "opacity": 1}, "encoding": {
        "y": {"field": "v", "type": "quantitative"},
        "shape": {"field": "t", "type": "nominal", "scale": {"domain": ["o", "p"], "range": ["M-1,0A1,1,0,1,0,1,0A1,1,0,1,0,-1,0Z", "M-1,0A1,1,0,1,0,1,0A1,1,0,1,0,-1,0ZM-1,0H1M0,-1V1"]}, "legend": null}
      }},
      {"data": {"values": [{"day": 0, "y0": 0.6, "y1": 1.037}]}, "mark": {"type": "rule", "strokeWidth": 3.5, "color": "black"}, "encoding": {"y": {"field": "y0", "type": "quantitative"}, "y2": {"field": "y1"}}}
    ]
  }
]
}
